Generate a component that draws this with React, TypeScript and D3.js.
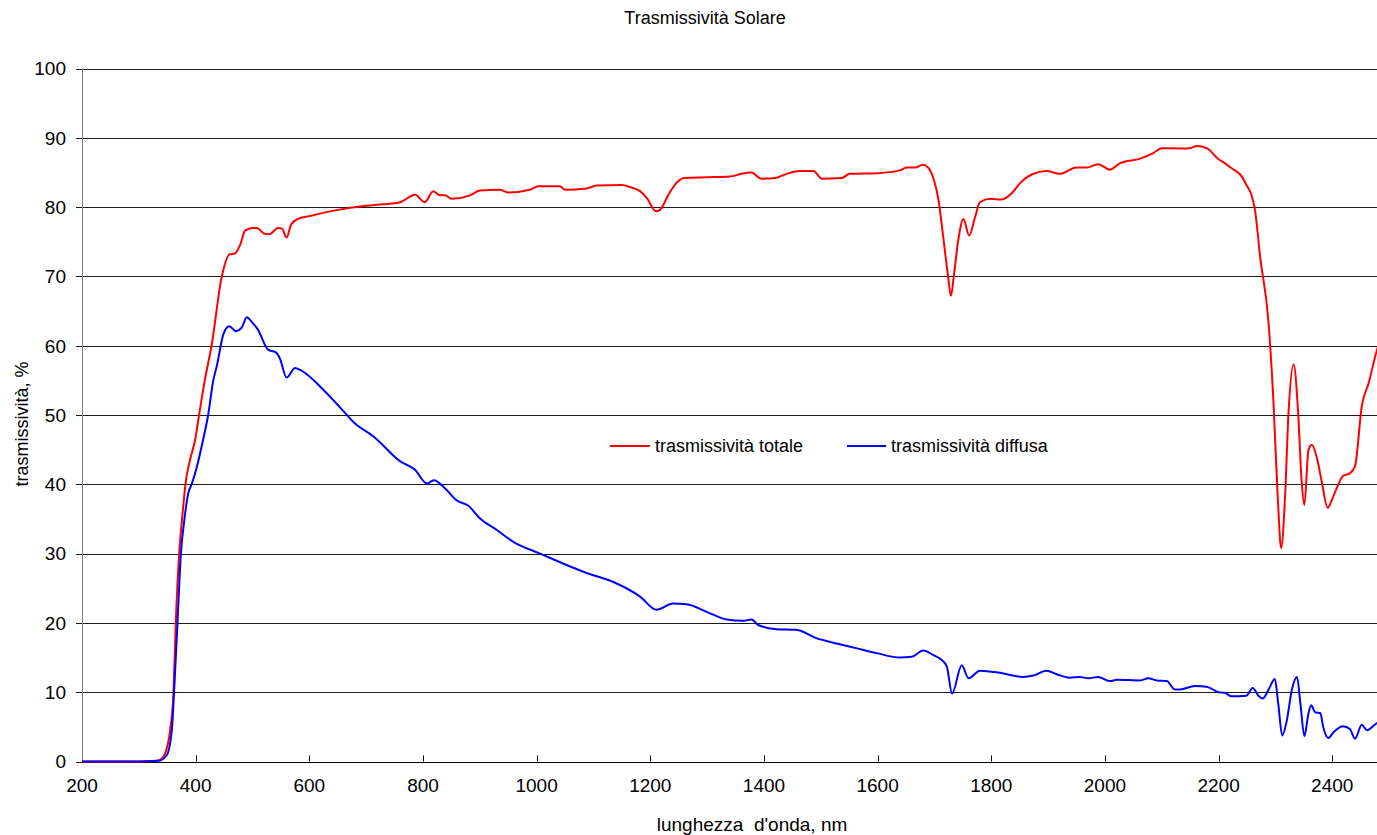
import React from "react";
import * as d3 from "d3";

const chartTitle = "Trasmissività Solare";
const xTitle = "lunghezza  d'onda, nm";
const yTitle = "trasmissività, %";
const seriesNames = ["trasmissività totale", "trasmissività diffusa"];
const xTicks = [200, 400, 600, 800, 1000, 1200, 1400, 1600, 1800, 2000, 2200, 2400];
const yTicks = [0, 10, 20, 30, 40, 50, 60, 70, 80, 90, 100];

const totalNm = [200, 250, 300, 331, 340, 346, 355, 361, 365, 371, 377, 382, 390, 399, 406, 416, 428, 446, 460, 469, 478, 487, 500, 508, 520, 530, 545, 552, 560, 568, 580, 600, 650, 700, 730, 760, 786, 803, 818, 830, 839, 850, 883, 900, 935, 950, 988, 1003, 1041, 1050, 1088, 1105, 1150, 1164, 1182, 1194, 1210, 1217, 1232, 1246, 1260, 1300, 1340, 1360, 1378, 1395, 1420, 1440, 1463, 1487, 1502, 1537, 1551, 1600, 1639, 1651, 1666, 1680, 1689, 1698, 1707, 1716, 1724, 1729, 1734, 1742, 1751, 1761, 1771, 1780, 1798, 1818, 1836, 1851, 1871, 1897, 1921, 1950, 1968, 1988, 2009, 2026, 2062, 2085, 2100, 2132, 2150, 2161, 2179, 2200, 2208, 2223, 2241, 2249, 2258, 2264, 2273, 2288, 2296, 2304, 2310, 2317, 2323, 2332, 2340, 2346, 2351, 2358, 2364, 2373, 2381, 2392, 2402, 2419, 2431, 2440, 2452, 2464, 2478, 2500];
const totalValues = [0, 0, 0, 0.1, 0.4, 1.1, 4.5, 10, 20, 30, 35.8, 40, 43.5, 46.4, 50, 55, 60, 70, 73.2, 73.3, 74.5, 76.6, 77.0, 77.0, 76.2, 76.1, 77.0, 76.9, 75.6, 77.5, 78.3, 78.7, 79.6, 80.2, 80.4, 80.7, 81.8, 80.7, 82.3, 81.7, 81.7, 81.2, 81.7, 82.4, 82.5, 82.1, 82.5, 83.0, 83.0, 82.5, 82.7, 83.1, 83.2, 82.9, 82.3, 81.3, 79.4, 79.6, 81.8, 83.5, 84.2, 84.3, 84.4, 84.8, 85.0, 84.1, 84.2, 84.8, 85.2, 85.2, 84.1, 84.2, 84.8, 84.9, 85.3, 85.7, 85.7, 86.1, 85.7, 84.2, 81.1, 75.3, 70.0, 67.2, 70.0, 75.3, 78.3, 75.9, 78.4, 80.7, 81.2, 81.1, 82.0, 83.5, 84.7, 85.2, 84.8, 85.7, 85.7, 86.2, 85.4, 86.3, 87.0, 87.8, 88.5, 88.46, 88.5, 88.8, 88.5, 86.9, 86.5, 85.6, 84.4, 83.2, 81.7, 79.6, 72.9, 63.2, 52.7, 38.3, 30.8, 38.3, 50.3, 57.3, 50.3, 40.6, 37.0, 44.9, 45.7, 43.8, 40.6, 36.6, 38.3, 41.2, 41.6, 42.6, 51.3, 54.6, 59.2, 64];

const diffuseNm = [200, 250, 300, 335, 349, 358, 362, 368, 374, 380, 387, 393, 402, 413, 422, 431, 437, 449, 459, 471, 481, 490, 499, 509, 528, 540, 548, 560, 575, 584, 631, 654, 680, 713, 760, 786, 807, 819, 839, 859, 880, 900, 930, 959, 1006, 1088, 1135, 1182, 1211, 1240, 1264, 1299, 1334, 1364, 1378, 1390, 1422, 1457, 1492, 1530, 1560, 1600, 1639, 1660, 1680, 1698, 1716, 1722, 1731, 1748, 1760, 1780, 1815, 1856, 1874, 1897, 1915, 1938, 1956, 1971, 1988, 2009, 2021, 2062, 2076, 2091, 2109, 2123, 2132, 2158, 2179, 2200, 2211, 2223, 2249, 2260, 2270, 2278, 2288, 2299, 2305, 2312, 2320, 2329, 2338, 2344, 2351, 2358, 2363, 2370, 2379, 2384, 2393, 2402, 2419, 2431, 2440, 2452, 2461, 2478, 2500];
const diffuseValues = [0, 0, 0, 0.1, 0.9, 4.5, 10, 20, 30, 34.8, 38.7, 40, 42.5, 46.4, 50, 55, 57, 61.7, 62.8, 62.1, 62.6, 64.1, 63.4, 62.4, 59.4, 59.1, 58.2, 55.4, 56.8, 56.5, 53.1, 51.1, 48.8, 46.9, 43.3, 42.1, 40.1, 40.6, 39.4, 37.7, 36.9, 35.1, 33.4, 31.7, 30.0, 27.2, 25.9, 23.8, 21.9, 22.8, 22.7, 21.6, 20.5, 20.3, 20.5, 19.7, 19.1, 19.0, 17.8, 17.0, 16.4, 15.6, 15.0, 15.1, 16.0, 15.35, 14.4, 13.65, 9.8, 13.9, 12.0, 13.1, 12.8, 12.2, 12.4, 13.1, 12.6, 12.1, 12.2, 12.0, 12.2, 11.6, 11.8, 11.7, 12.0, 11.7, 11.6, 10.4, 10.4, 10.9, 10.8, 10.0, 9.9, 9.4, 9.5, 10.6, 9.5, 9.1, 10.4, 11.9, 8.3, 3.75, 5.9, 10.4, 12.2, 8.3, 3.65, 6.9, 8.1, 7.1, 7.0, 5.0, 3.4, 4.2, 5.1, 4.7, 3.3, 5.3, 4.5, 5.5, 6];

const W = 1377;
const H = 835;
const FONT = "'Liberation Sans', Arial, sans-serif";

export default function App() {
  const x = d3.scaleLinear().domain([200, 2500]).range([82, 82 + 2300 * 0.5683]);
  const y = d3.scaleLinear().domain([0, 100]).range([761.5, 68.5]);
  const line = d3
    .line<[number, number]>()
    .x((d) => x(d[0]))
    .y((d) => y(d[1]))
    .curve(d3.curveMonotoneX);
  const totalPts = totalNm.map((n, i) => [n, totalValues[i]] as [number, number]);
  const diffusePts = diffuseNm.map((n, i) => [n, diffuseValues[i]] as [number, number]);
  const x0 = x(200);
  const xEnd = W;

  return (
    <svg
      width={W}
      height={H}
      style={{ position: "absolute", left: 0, top: 0, background: "#fff" }}
      fontFamily={FONT}
    >
      <rect x={0} y={0} width={W} height={H} fill="#fff" />
      <text x={705} y={24} textAnchor="middle" fontSize={18} fill="#000">
        {chartTitle}
      </text>
      {yTicks.map((t) => (
        <g key={"y" + t}>
          {t > 0 && (
            <line x1={x0} x2={xEnd} y1={Math.round(y(t)) + 0.5} y2={Math.round(y(t)) + 0.5} stroke="#1a1a1a" strokeWidth={1} />
          )}
          <line x1={x0 - 6} x2={x0} y1={Math.round(y(t)) + 0.5} y2={Math.round(y(t)) + 0.5} stroke="#1a1a1a" strokeWidth={1} />
          <text x={x0 - 16} y={y(t)} dy="0.36em" textAnchor="end" fontSize={19} fill="#000">
            {t}
          </text>
        </g>
      ))}
      {xTicks.map((t) => (
        <g key={"x" + t}>
          {t > 200 && (
            <line x1={Math.round(x(t)) + 0.5} x2={Math.round(x(t)) + 0.5} y1={y(0) - 6} y2={y(0)} stroke="#000" strokeWidth={1} />
          )}
          <text x={x(t)} y={792} textAnchor="middle" fontSize={19} fill="#000">
            {t}
          </text>
        </g>
      ))}
      <line x1={x0 + 0.5} x2={x0 + 0.5} y1={y(100)} y2={y(0)} stroke="#808080" strokeWidth={1} />
      <line x1={x0} x2={xEnd} y1={Math.round(y(0)) + 0.5} y2={Math.round(y(0)) + 0.5} stroke="#000" strokeWidth={1} />
      <path d={line(totalPts) || ""} fill="none" stroke="#ff0000" strokeWidth={2} strokeLinejoin="round" />
      <path d={line(diffusePts) || ""} fill="none" stroke="#0000ff" strokeWidth={2} strokeLinejoin="round" />
      <g>
        <line x1={610} x2={650} y1={446} y2={446} stroke="#ff0000" strokeWidth={2} />
        <text x={655} y={446} dy="0.36em" fontSize={18} fill="#000">
          {seriesNames[0]}
        </text>
        <line x1={847} x2={886} y1={446} y2={446} stroke="#0000ff" strokeWidth={2} />
        <text x={891} y={446} dy="0.36em" fontSize={18} fill="#000">
          {seriesNames[1]}
        </text>
      </g>
      <text x={752} y={831} textAnchor="middle" fontSize={19} fill="#000" style={{ whiteSpace: "pre" }}>
        {xTitle}
      </text>
      <text
        transform={`translate(28, 424) rotate(-90)`}
        textAnchor="middle"
        fontSize={18}
        fill="#000"
      >
        {yTitle}
      </text>
    </svg>
  );
}
